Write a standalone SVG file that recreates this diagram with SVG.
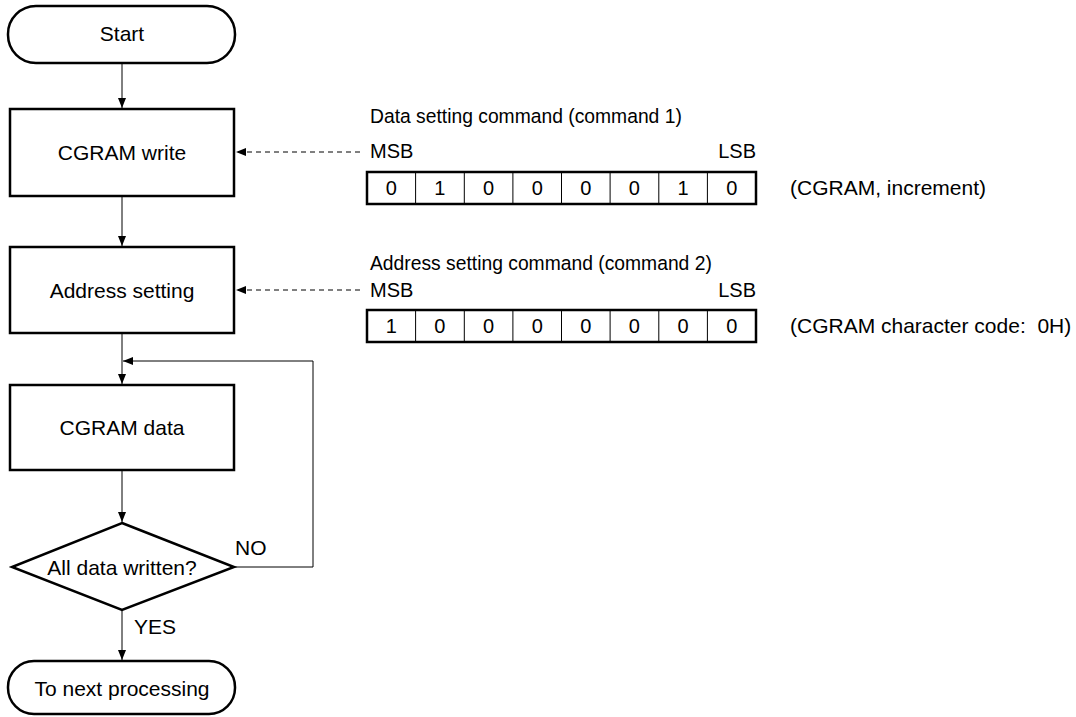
<svg xmlns="http://www.w3.org/2000/svg" width="1076" height="717" viewBox="0 0 1076 717">
<style>
text{font-family:"Liberation Sans",Arial,sans-serif;font-size:21px;fill:#000}
.c{text-anchor:middle}
.t{font-size:19.3px}
.m{font-size:20px}
.node{fill:#fff;stroke:#000;stroke-width:2.5}
.ln{fill:none;stroke:#000;stroke-width:1}
.dash{fill:none;stroke:#000;stroke-width:1;stroke-dasharray:5 4}
.cell{fill:none;stroke:#000;stroke-width:1}
.tbl{fill:none;stroke:#000;stroke-width:2.5}
</style>
<defs>
<marker id="ah" viewBox="0 0 10 8" refX="10" refY="4" markerWidth="10" markerHeight="8" markerUnits="userSpaceOnUse" orient="auto">
<path d="M0,0 L10,4 L0,8 Z" fill="#000"/>
</marker>
</defs>
<rect width="1076" height="717" fill="#fff"/>
<g id="connectors">
<line class="ln" x1="122" y1="63" x2="122" y2="108" marker-end="url(#ah)"/>
<line class="ln" x1="122" y1="196" x2="122" y2="246" marker-end="url(#ah)"/>
<line class="ln" x1="122" y1="333" x2="122" y2="384" marker-end="url(#ah)"/>
<line class="ln" x1="122" y1="470" x2="122" y2="522" marker-end="url(#ah)"/>
<line class="ln" x1="122" y1="610" x2="122" y2="660" marker-end="url(#ah)"/>
<polyline class="ln" points="234,567 313,567 313,361 123,361" marker-end="url(#ah)"/>
<line class="dash" x1="360" y1="152" x2="236" y2="152" marker-end="url(#ah)"/>
<line class="dash" x1="360" y1="290" x2="236" y2="290" marker-end="url(#ah)"/>
<text x="235" y="555">NO</text>
<text x="134" y="634">YES</text>
</g>
<g id="start">
<rect class="node" x="8" y="6" width="227" height="57" rx="28" ry="28"/>
<text class="c" x="122" y="41">Start</text>
</g>
<g id="cgram-write">
<rect class="node" x="10" y="109" width="224" height="87"/>
<text class="c" x="122" y="160">CGRAM write</text>
</g>
<g id="address-setting">
<rect class="node" x="10" y="247" width="224" height="86"/>
<text class="c" x="122" y="298">Address setting</text>
</g>
<g id="cgram-data">
<rect class="node" x="10" y="385" width="224" height="85"/>
<text class="c" x="122" y="435">CGRAM data</text>
</g>
<g id="all-data-written">
<polygon class="node" points="122,523 234,567 122,610 12,567"/>
<text class="c" x="122" y="575">All data written?</text>
</g>
<g id="end">
<rect class="node" x="8" y="661" width="227" height="53" rx="26" ry="26"/>
<text class="c" x="122" y="696">To next processing</text>
</g>
<g id="command1">
<text class="t" x="370" y="123">Data setting command (command 1)</text>
<text class="m" x="370" y="158">MSB</text>
<text class="m" x="756" y="158" text-anchor="end">LSB</text>
<g class="cell">
<line x1="415.6" y1="172" x2="415.6" y2="204"/>
<line x1="464.3" y1="172" x2="464.3" y2="204"/>
<line x1="512.9" y1="172" x2="512.9" y2="204"/>
<line x1="561.5" y1="172" x2="561.5" y2="204"/>
<line x1="610.1" y1="172" x2="610.1" y2="204"/>
<line x1="658.8" y1="172" x2="658.8" y2="204"/>
<line x1="707.4" y1="172" x2="707.4" y2="204"/>
</g>
<rect class="tbl" x="367" y="172" width="389" height="32"/>
<g class="m">
<text class="c m" x="391.3" y="195">0</text>
<text class="c m" x="439.9" y="195">1</text>
<text class="c m" x="488.6" y="195">0</text>
<text class="c m" x="537.2" y="195">0</text>
<text class="c m" x="585.8" y="195">0</text>
<text class="c m" x="634.4" y="195">0</text>
<text class="c m" x="683.1" y="195">1</text>
<text class="c m" x="731.7" y="195">0</text>
</g>
<text x="790" y="195">(CGRAM, increment)</text>
</g>
<g id="command2">
<text class="t" x="370" y="270">Address setting command (command 2)</text>
<text class="m" x="370" y="297">MSB</text>
<text class="m" x="756" y="297" text-anchor="end">LSB</text>
<g class="cell">
<line x1="415.6" y1="310" x2="415.6" y2="342"/>
<line x1="464.3" y1="310" x2="464.3" y2="342"/>
<line x1="512.9" y1="310" x2="512.9" y2="342"/>
<line x1="561.5" y1="310" x2="561.5" y2="342"/>
<line x1="610.1" y1="310" x2="610.1" y2="342"/>
<line x1="658.8" y1="310" x2="658.8" y2="342"/>
<line x1="707.4" y1="310" x2="707.4" y2="342"/>
</g>
<rect class="tbl" x="367" y="310" width="389" height="32"/>
<text class="c m" x="391.3" y="333">1</text>
<text class="c m" x="439.9" y="333">0</text>
<text class="c m" x="488.6" y="333">0</text>
<text class="c m" x="537.2" y="333">0</text>
<text class="c m" x="585.8" y="333">0</text>
<text class="c m" x="634.4" y="333">0</text>
<text class="c m" x="683.1" y="333">0</text>
<text class="c m" x="731.7" y="333">0</text>
<text x="790" y="333" xml:space="preserve">(CGRAM character code:  0H)</text>
</g>
</svg>
